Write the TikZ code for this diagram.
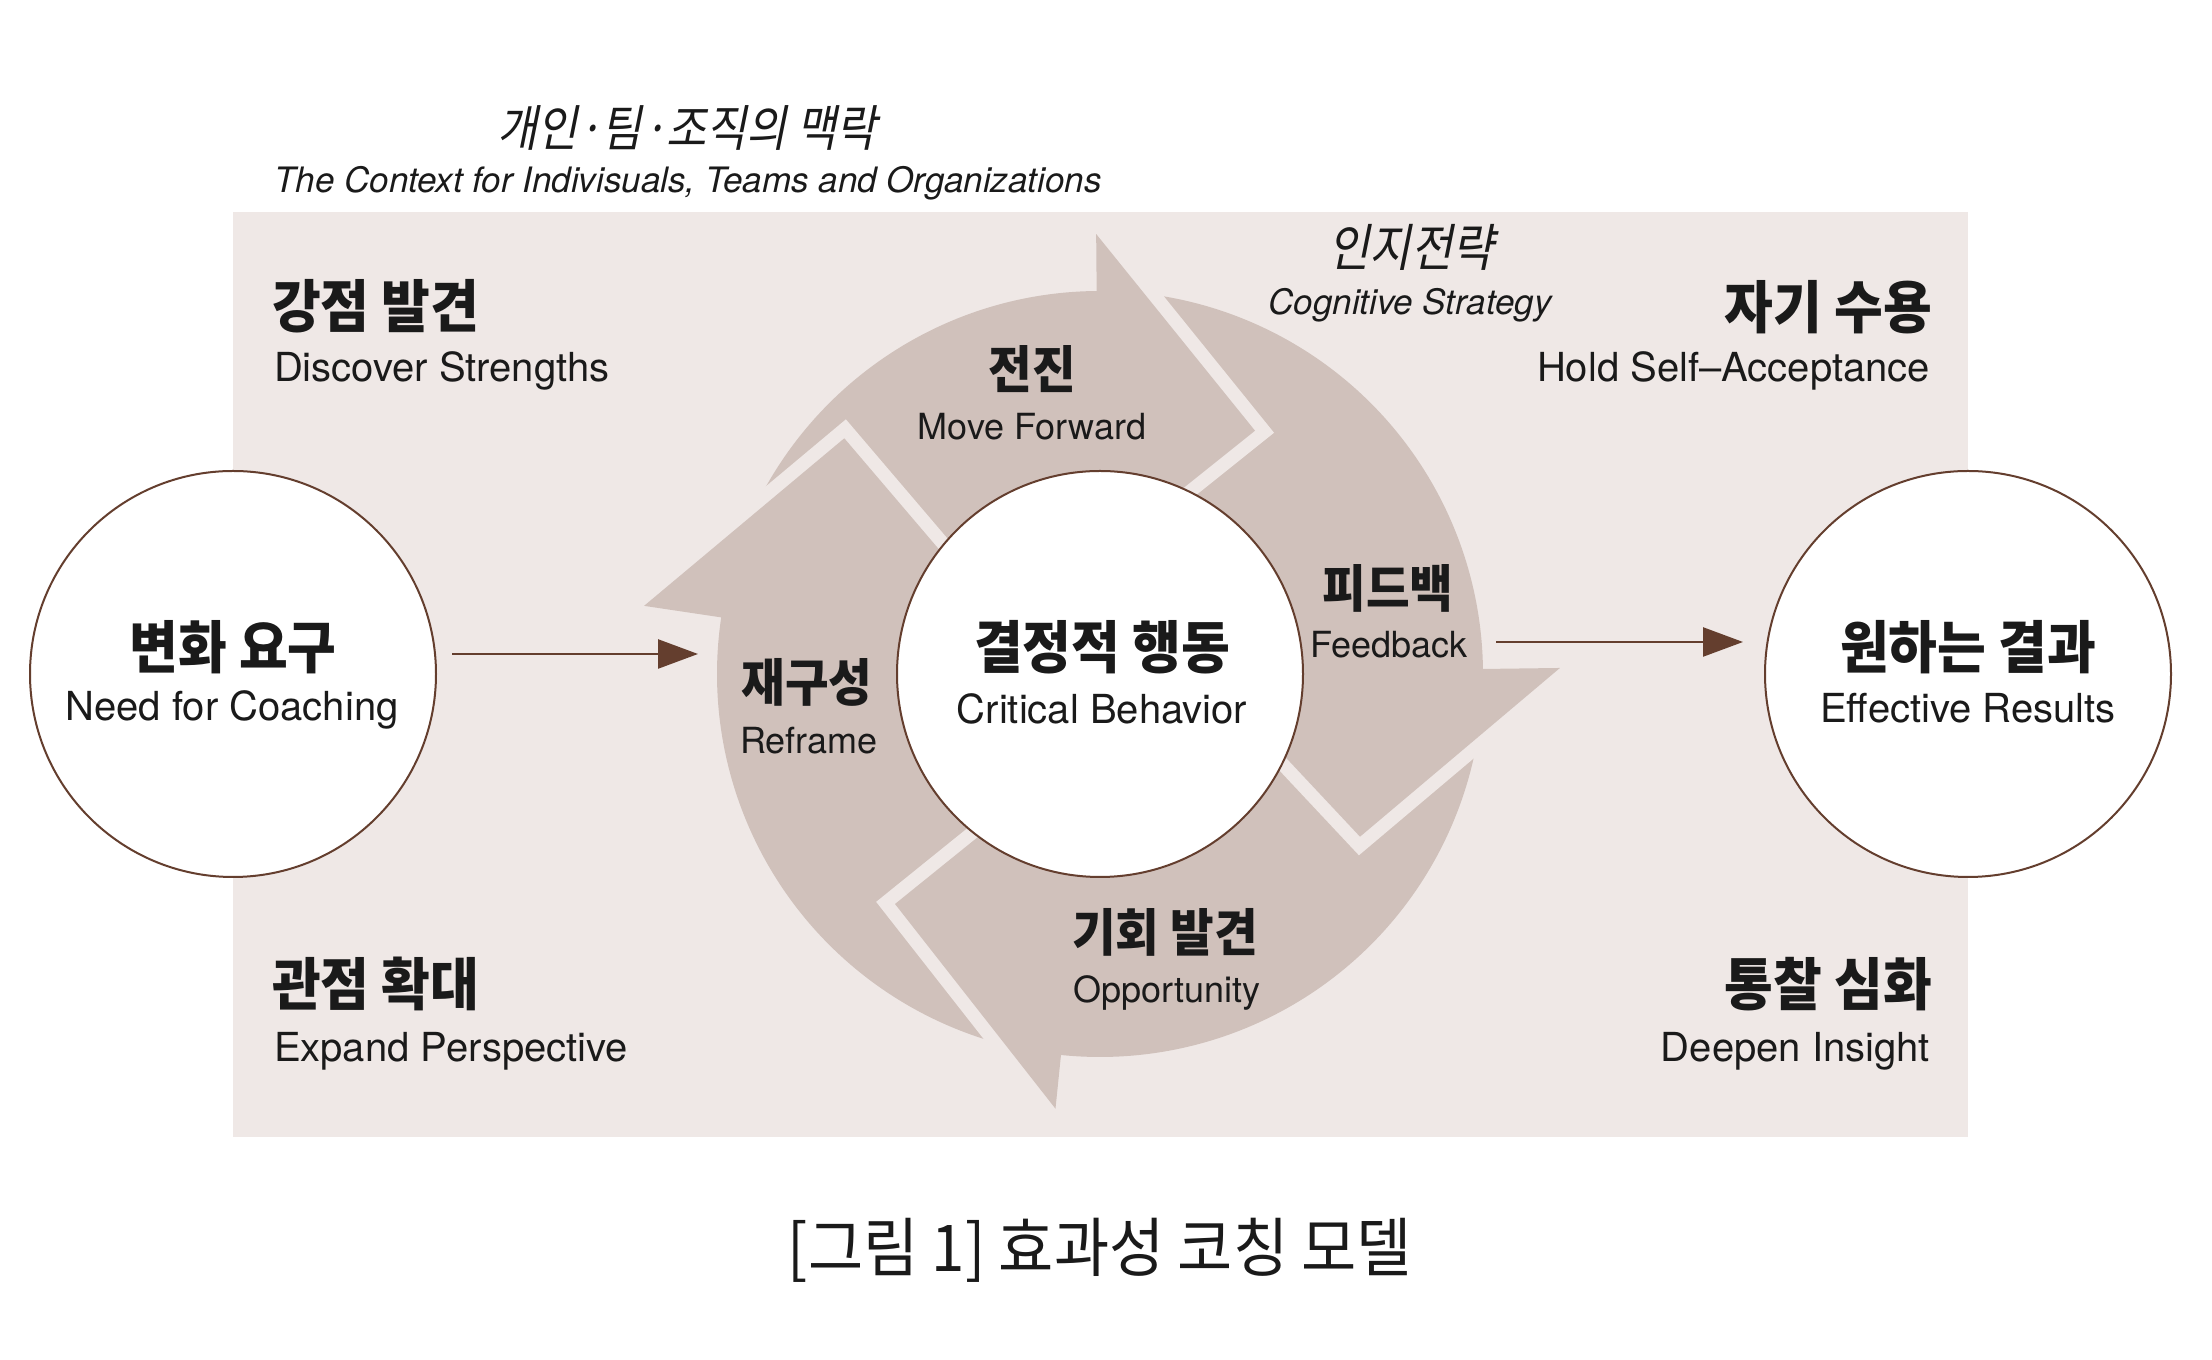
\documentclass[tikz,border=0pt]{standalone}
\usepackage{fontspec}
\setmainfont{TeX Gyre Heros}
\newfontfamily\krfont{Noto Sans CJK KR}[FakeStretch=0.93]
\newfontfamily\krslant{Noto Sans CJK KR}[FakeStretch=0.88,FakeSlant=0.2]
\usetikzlibrary{arrows.meta}
\definecolor{bgcol}{RGB}{239,232,230}
\definecolor{arrcol}{RGB}{208,193,187}
\definecolor{brn}{RGB}{100,62,46}
\definecolor{txt}{RGB}{26,26,26}
\newcommand\ringbody[2]{\fill[arrcol] (#1:383) arc[start angle=#1, end angle=#2, radius=383pt] -- (#2:180) arc[start angle=#2, end angle=#1, radius=180pt] -- cycle;}
\newcommand\ringhead[4]{%
  \draw[gapline] (#1:#2) -- #3 -- #4;
  \fill[arrcol] (#1:#2) -- #3 -- #4 -- (#1:60) -- cycle;}
\begin{document}
\begin{tikzpicture}[x=1pt,y=1pt,
  every node/.style={inner sep=0pt, outer sep=0pt, text=txt},
  krbig/.style={font=\krfont\bfseries\fontsize{57}{62}\selectfont},
  krin/.style={font=\krfont\bfseries\fontsize{51}{56}\selectfont},
  enbig/.style={font=\fontsize{40}{46}\selectfont},
  enin/.style={font=\fontsize{36}{42}\selectfont},
  enit/.style={font=\itshape\fontsize{35}{40}\selectfont},
  krit/.style={font=\krslant\fontsize{51}{57}\selectfont},
  krtitle/.style={font=\krslant\fontsize{49.5}{56}\selectfont},
  capt/.style={font=\krfont\fontsize{64.5}{70}\selectfont},
  ringnode/.style={circle, draw=brn, line width=2pt, fill=white, minimum size=406pt},
  conn/.style={draw=brn, line width=2.5pt, -{Triangle[length=40pt,width=29pt]}},
  gapline/.style={draw=bgcol, line width=27pt, line join=miter, miter limit=10}]
\useasboundingbox (0,0) rectangle (2212,1360);
\fill[white] (0,0) rectangle (2212,1360);
% context panel
\fill[bgcol] (233,223) rectangle (1968,1148);
% cycle of four arrows
\begin{scope}[shift={(1100,686)}]
  \ringbody{264.15}{171.0}
  \ringbody{171.5}{90.0}
  \ringbody{90.5}{0.25}
  \ringbody{0.75}{-96.35}
  \ringhead{171.5}{461}{(-255.7,235.7)}{(-70.9,18.9)}
  \ringhead{90.5}{440}{(155,243.3)}{(1,120)}
  \ringhead{0.75}{460}{(260,-162.7)}{(95,13.3)}
  \ringhead{264.15}{437}{(-205,-230)}{(-21.7,-82)}
\end{scope}
% circles
\node[ringnode] (needL) at (233,686) {};
\node[ringnode] (core) at (1100,686) {};
\node[ringnode] (effR) at (1968,686) {};
% connectors
\coordinate (inL) at (698,706);
\coordinate (outR) at (1496,718);
\draw[conn, shorten <=16pt] (needL.east |- inL) -- (inL);
\draw[conn, shorten >=22pt] (outR) -- (outR -| effR.west);
% top context title
\node[krtitle, anchor=base] (ctxK) at (687,1213) {개인·팀·조직의 맥락};
\node[enit, anchor=base] (ctxE) at (688,1167) {The Context for Indivisuals, Teams and Organizations};
% corner labels
\node[krbig, anchor=base west] (dsK) at (272,1032) {강점 발견};
\node[enbig, anchor=base west] (dsE) at (274,978) {Discover Strengths};
\node[krbig, anchor=base east] (saK) at (1932,1031) {자기 수용};
\node[enbig, anchor=base east] (saE) at (1930,978) {Hold Self–Acceptance};
\node[krbig, anchor=base west] (epK) at (272,354) {관점 확대};
\node[enbig, anchor=base west] (epE) at (274,298) {Expand Perspective};
\node[krbig, anchor=base east] (diK) at (1932,354) {통찰 심화};
\node[enbig, anchor=base east] (diE) at (1930,298) {Deepen Insight};
% circle labels
\node[krbig, anchor=base] (needK) at (233,691) {변화 요구};
\node[enbig, anchor=base] (needE) at (232,639) {Need for Coaching};
\node[krbig, anchor=base] (coreK) at (1102,691) {결정적 행동};
\node[enbig, anchor=base] (coreE) at (1102,636) {Critical Behavior};
\node[krbig, anchor=base] (effK) at (1968,691) {원하는 결과};
\node[enbig, anchor=base] (effE) at (1968,637) {Effective Results};
% cycle labels
\node[krin, anchor=base] (mfK) at (1032,971) {전진};
\node[enin, anchor=base] (mfE) at (1032,920) {Move Forward};
\node[krin, anchor=base] (rfK) at (807,658) {재구성};
\node[enin, anchor=base] (rfE) at (809,606) {Reframe};
\node[krin, anchor=base] (fbK) at (1388,752) {피드백};
\node[enin, anchor=base] (fbE) at (1389,702) {Feedback};
\node[krin, anchor=base] (opK) at (1165,408) {기회 발견};
\node[enin, anchor=base] (opE) at (1167,357) {Opportunity};
\node[krit, anchor=base] (csK) at (1411,1093) {인지전략};
\node[enit, anchor=base] (csE) at (1410,1045) {Cognitive Strategy};
% caption
\node[capt, anchor=base] (cap) at (1100,88) {[그림 1] 효과성 코칭 모델};
\end{tikzpicture}
\end{document}
